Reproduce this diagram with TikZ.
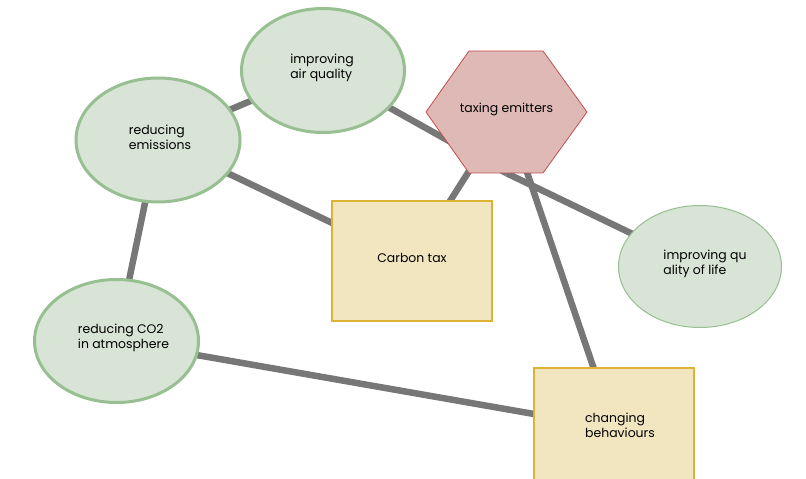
\documentclass[tikz,border=0pt]{standalone}
\usepackage{fontspec}
\setmainfont{Poppins}
\usetikzlibrary{shapes.geometric,backgrounds,calc}
\definecolor{ellfill}{HTML}{D8E4D5}
\definecolor{ellline}{HTML}{97BF92}
\definecolor{rectfill}{HTML}{F2E6C0}
\definecolor{rectline}{HTML}{DDB235}
\definecolor{hexfill}{HTML}{DFB9B6}
\definecolor{hexline}{HTML}{C0504D}
\definecolor{linkcol}{HTML}{777777}
\tikzset{
  txt/.style={font=\fontsize{12.5}{15}\selectfont, align=left, text=black, inner sep=0pt, yshift=3bp},
  ell/.style={ellipse, draw=ellline, fill=ellfill, line width=3bp, inner sep=0pt},
  ellthin/.style={ellipse, draw=ellline, fill=ellfill, line width=1bp, inner sep=0pt},
  box/.style={rectangle, draw=rectline, fill=rectfill, line width=2bp,
    minimum width=160bp, minimum height=120bp, inner sep=0pt},
  hexnode/.style={rectangle, minimum width=161bp, minimum height=122bp, inner sep=0pt},
  link/.style={draw=linkcol, line width=6.5bp}
}
\begin{document}
\begin{tikzpicture}[x=1bp,y=-1bp]
\useasboundingbox (0,0) rectangle (806,479);
% nodes
\node[ell, minimum width=163bp, minimum height=124bp,
  label={[txt, xshift=-1bp]center:{improving\\air quality}}] (air) at (323,70.5) {};
\node[ell, minimum width=164bp, minimum height=124bp,
  label={[txt, xshift=2bp]center:{reducing\\emissions}}] (em) at (158,140) {};
\node[ell, minimum width=164bp, minimum height=123bp,
  label={[txt, xshift=7bp]center:{reducing CO2\\in atmosphere}}] (co2) at (116.5,341) {};
\node[ellthin, minimum width=163bp, minimum height=122bp,
  label={[txt, xshift=5bp]center:{improving qu\\ality of life}}] (qol) at (700,266.5) {};
\node[box, label={[txt]center:{Carbon tax}}] (carbon) at (412,261) {};
\node[box, label={[txt, xshift=6bp]center:{changing\\behaviours}}] (change) at (614,428) {};
\path[fill=hexfill, draw=hexline, line width=0.8bp]
  (426,112) -- (469,51) -- (543,51) -- (587,112) -- (543,173) -- (469,173) -- cycle;
\node[hexnode, label={[txt]center:{taxing emitters}}] (hex) at (506.5,112) {};
% connectors
\begin{pgfonlayer}{background}
\fill[white] (0,0) rectangle (806,479);
\draw[link] (em.center) -- (air.center);
\draw[link] (em.center) -- (carbon.center);
\draw[link] (em.center) -- (co2.center);
\draw[link] (co2.center) -- (change.center);
\draw[link] (air.center) -- (hex.south);
\draw[link] (hex.south) -- (qol.center);
\draw[link] (hex.center) -- (carbon.center);
\draw[link] (hex.center) -- (change.center);
\end{pgfonlayer}
\end{tikzpicture}
\end{document}
